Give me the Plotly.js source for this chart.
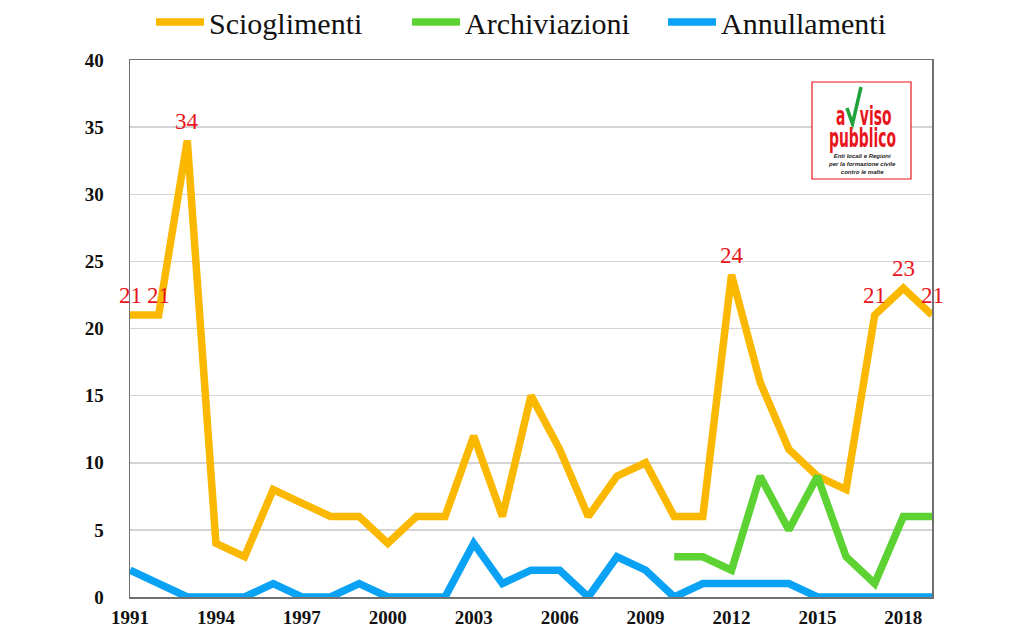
<!DOCTYPE html>
<html>
<head>
<meta charset="utf-8">
<script src="https://cdn.plot.ly/plotly-3.0.1.min.js"></script>
<style>
  html, body { margin: 0; padding: 0; background: #fff; }
  #chart { width: 1024px; height: 640px; }
</style>
</head>
<body>
<div id="chart"></div>
<script>
// Yearly counts of council dissolutions, archived procedures and annulments
const years = [1991, 1992, 1993, 1994, 1995, 1996, 1997, 1998, 1999, 2000,
               2001, 2002, 2003, 2004, 2005, 2006, 2007, 2008, 2009, 2010,
               2011, 2012, 2013, 2014, 2015, 2016, 2017, 2018, 2019];
const scioglimenti = [21, 21, 34, 4, 3, 8, 7, 6, 6, 4,
                      6, 6, 12, 6, 15, 11, 6, 9, 10, 6,
                      6, 24, 16, 11, 9, 8, 21, 23, 21];
const archYears = [2010, 2011, 2012, 2013, 2014, 2015, 2016, 2017, 2018, 2019];
const archiviazioni = [3, 3, 2, 9, 5, 9, 3, 1, 6, 6];
const annullamenti = [2, 1, 0, 0, 0, 1, 0, 0, 1, 0,
                      0, 0, 4, 1, 2, 2, 0, 3, 2, 0,
                      1, 1, 1, 1, 0, 0, 0, 0, 0];
// Years whose dissolution count is written above the line
const labelYears = [1991, 1992, 1993, 2012, 2017, 2018, 2019];
const xTicks = [1991, 1994, 1997, 2000, 2003, 2006, 2009, 2012, 2015, 2018];
const yTicks = [0, 5, 10, 15, 20, 25, 30, 35, 40];

const labelValues = labelYears.map(y => scioglimenti[years.indexOf(y)]);

const serif = '"Liberation Serif", "DejaVu Serif", serif';
const narrow = '"DejaVu Sans Condensed", "Liberation Sans", sans-serif';
const ORANGE = '#FBB800';
const GREEN = '#5DD233';
const BLUE = '#0AA2F5';
const RED = '#E8141B';

const traces = [
  { x: years, y: scioglimenti, name: 'Scioglimenti', type: 'scatter', mode: 'lines',
    line: { color: ORANGE, width: 7.5 } },
  { x: archYears, y: archiviazioni, name: 'Archiviazioni', type: 'scatter', mode: 'lines',
    line: { color: GREEN, width: 7.5 } },
  { x: years, y: annullamenti, name: 'Annullamenti', type: 'scatter', mode: 'lines',
    line: { color: BLUE, width: 7.5 } }
];

// Helpers for placing the logo inside the plot frame (pixel -> paper)
const L = 130, R = 932, T = 60, B = 597;
const px = v => (v - L) / (R - L);
const py = v => (B - v) / (B - T);

// Value labels above selected points of the dissolutions line
const valueLabels = labelYears.map((yr, i) => ({
  x: yr, y: labelValues[i], xref: 'x', yref: 'y', text: String(labelValues[i]),
  showarrow: false, xanchor: 'center', yanchor: 'bottom', yshift: 5,
  font: { family: serif, size: 23, color: RED }
}));

// Logo lettering (condensed afterwards to the logo's narrow face);
// the gap in the first word holds the green tick
const logoWords = [
  { x: 863, y: 116, text: 'a&nbsp;&nbsp;&nbsp;viso' },
  { x: 862, y: 138, text: 'pubblico' }
];
const logoText = logoWords.map(t => ({
  xref: 'paper', yref: 'paper', x: px(t.x), y: py(t.y), text: t.text, showarrow: false,
  xanchor: 'center', yanchor: 'middle',
  font: { family: narrow, size: 26, color: RED, weight: 'bold' }
}));

const layout = {
  width: 1024, height: 640,
  margin: { l: L, r: 1024 - R, t: T, b: 640 - B },
  paper_bgcolor: '#fff', plot_bgcolor: '#fff',
  font: { family: serif, color: '#111' },
  showlegend: true,
  legend: {
    orientation: 'h', x: 0.505, xanchor: 'center',
    yref: 'container', y: 1 - 22 / 640, yanchor: 'middle',
    font: { family: serif, size: 30, color: '#111' },
    bgcolor: 'rgba(0,0,0,0)',
    itemwidth: 48, entrywidth: 193, entrywidthmode: 'pixels', traceorder: 'normal'
  },
  xaxis: {
    range: [1991, 2019], tickvals: xTicks, ticktext: xTicks.map(String),
    showgrid: false, zeroline: false, showline: true, mirror: true,
    linecolor: '#707070', linewidth: 1.5, ticks: '', layer: 'below traces',
    tickfont: { family: serif, size: 19, color: '#111', weight: 'bold' },
    ticklabelstandoff: 3
  },
  yaxis: {
    range: [0, 40], tickvals: yTicks, ticktext: yTicks.map(String),
    showgrid: true, gridcolor: '#d4d4d4', gridwidth: 1.5,
    zeroline: false, showline: true, mirror: true,
    linecolor: '#707070', linewidth: 1.5, ticks: '', layer: 'below traces',
    tickfont: { family: serif, size: 19, color: '#111', weight: 'bold' },
    ticklabelstandoff: 21
  },
  shapes: [
    { type: 'rect', xref: 'paper', yref: 'paper',
      x0: px(812), x1: px(911), y0: py(179), y1: py(82),
      line: { color: RED, width: 1.2 }, fillcolor: '#fff', layer: 'above' },
    { type: 'path', xref: 'paper', yref: 'paper',
      path: `M ${px(847)} ${py(108)} L ${px(852.5)} ${py(124)} L ${px(861)} ${py(87)}`,
      line: { color: '#1FA23A', width: 3.5 }, layer: 'above' }
  ],
  annotations: valueLabels.concat(logoText, [
    { xref: 'paper', yref: 'paper', x: px(862), y: py(164),
      text: '<i>Enti locali e Regioni<br>per la formazione civile<br>contro le mafie</i>',
      showarrow: false, align: 'center', xanchor: 'center', yanchor: 'middle',
      font: { family: '"Liberation Sans", "DejaVu Sans", sans-serif', size: 6, color: '#222', weight: 'bold' } }
  ])
};

Plotly.newPlot('chart', traces, layout, { displayModeBar: false, staticPlot: true }).then(gd => {
  // Squeeze the logo words horizontally into a tall, narrow letterform
  const first = valueLabels.length;
  const nodes = gd.querySelectorAll('.annotation');
  let scale = null;
  const pubIdx = first + 1;
  nodes.forEach(n => {
    if (+n.getAttribute('data-index') === pubIdx) {
      const t = n.querySelector('text.annotation-text');
      scale = 67 / t.getBBox().width;
    }
  });
  if (!scale) return;
  nodes.forEach(n => {
    const idx = +n.getAttribute('data-index');
    if (idx >= first && idx < first + logoWords.length) {
      const t = n.querySelector('text.annotation-text');
      const bb = t.getBBox();
      const cx = bb.x + bb.width / 2;
      t.setAttribute('transform', `translate(${cx},0) scale(${scale},1) translate(${-cx},0)`);
    }
  });
});
</script>
</body>
</html>
